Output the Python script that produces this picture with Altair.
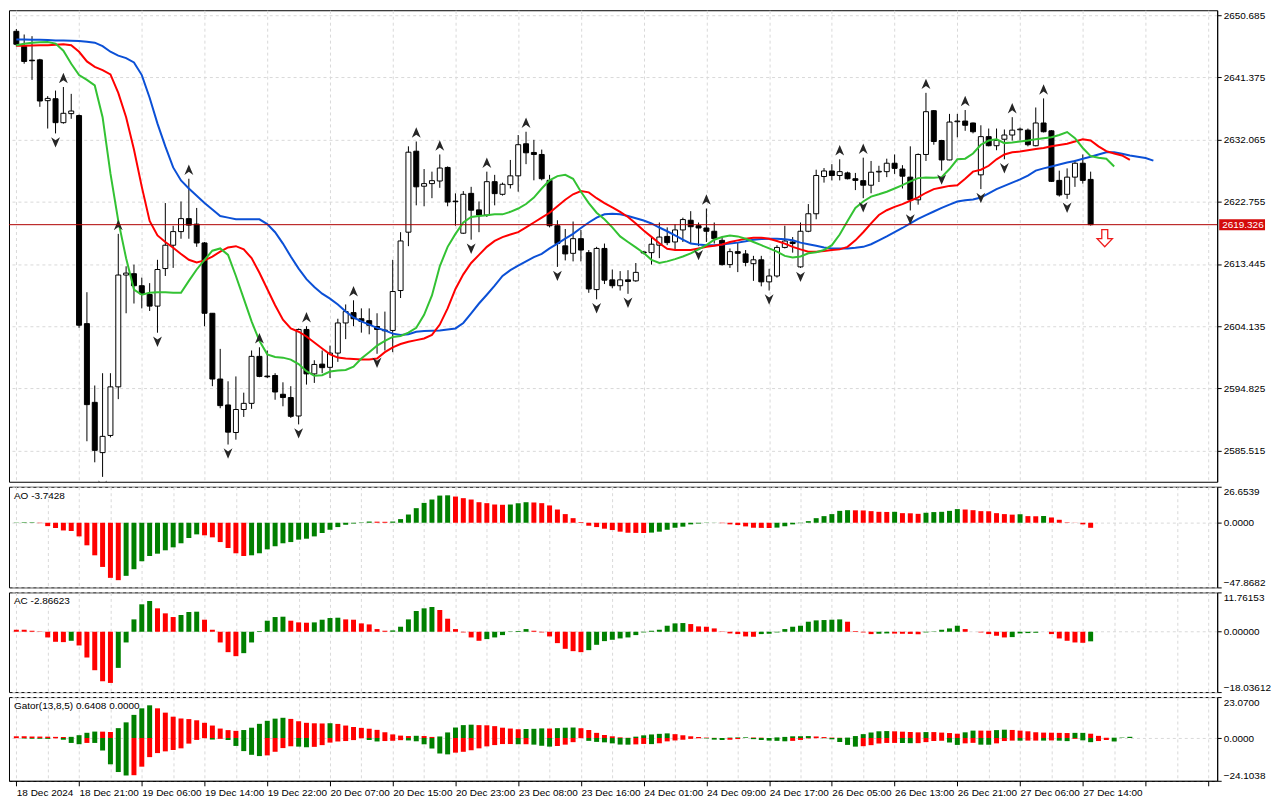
import json
import altair as alt
import pandas as pd

# ---------------- data (XAUUSD H1) ----------------
time_labels = ["18 Dec 2024", "18 Dec 21:00", "19 Dec 06:00", "19 Dec 14:00", "19 Dec 22:00",
               "20 Dec 07:00", "20 Dec 15:00", "20 Dec 23:00", "23 Dec 08:00", "23 Dec 16:00",
               "24 Dec 01:00", "24 Dec 09:00", "24 Dec 17:00", "26 Dec 05:00", "26 Dec 13:00",
               "26 Dec 21:00", "27 Dec 06:00", "27 Dec 14:00"]

price_ticks = [2585.515, 2590.170, 2594.825, 2599.480, 2604.135, 2608.790, 2613.445, 2618.100,
               2622.755, 2627.410, 2632.065, 2636.720, 2641.375, 2646.030, 2650.685]

opens = [2648.26, 2645.98, 2643.94, 2643.99, 2637.88, 2638.17, 2634.59, 2635.94, 2635.65, 2604.52,
         2592.74, 2585.22, 2587.79, 2595.06, 2611.79, 2611.99, 2610.19, 2608.88, 2607.14, 2612.76,
         2616.25, 2618.29, 2620.23, 2619.41, 2616.59, 2606.07, 2596.23, 2592.35, 2588.23, 2591.67,
         2592.59, 2599.62, 2596.67, 2596.76, 2593.95, 2593.46, 2590.70, 2603.65, 2597.00, 2598.46,
         2597.98, 2600.11, 2604.62, 2606.17, 2605.25, 2604.96, 2604.09, 2603.55, 2603.50, 2609.47,
         2618.20, 2630.32, 2625.08, 2625.47, 2625.86, 2627.89, 2622.85, 2618.05, 2624.01, 2621.54,
         2620.77, 2625.76, 2623.87, 2625.32, 2626.63, 2631.43, 2630.13, 2629.83, 2625.96, 2619.17,
         2616.16, 2615.04, 2617.23, 2615.14, 2609.61, 2615.77, 2611.07, 2610.19, 2611.07, 2610.92,
         2615.24, 2615.14, 2616.26, 2617.57, 2616.74, 2618.54, 2619.99, 2619.17, 2618.83, 2618.34,
         2616.98, 2613.35, 2615.29, 2614.95, 2613.49, 2614.07, 2610.77, 2611.65, 2615.92, 2616.74,
         2613.01, 2618.34, 2620.96, 2626.53, 2627.36, 2626.68, 2627.07, 2626.20, 2625.91, 2625.23,
         2627.21, 2627.26, 2628.52, 2627.65, 2626.44, 2623.04, 2629.83, 2636.38, 2631.92, 2629.01,
         2634.73, 2634.83, 2634.54, 2626.78, 2632.50, 2631.14, 2632.11, 2632.74, 2633.52, 2633.47,
         2631.14, 2634.54, 2633.37, 2625.95, 2623.87, 2626.44, 2628.52, 2626.10]

highs = [2648.60, 2647.78, 2647.53, 2644.14, 2638.56, 2639.39, 2639.92, 2638.90, 2635.80, 2609.22,
         2595.26, 2597.10, 2597.10, 2617.95, 2613.10, 2613.35, 2611.41, 2610.58, 2614.07, 2622.56,
         2619.16, 2622.80, 2626.20, 2621.83, 2616.74, 2606.07, 2600.74, 2595.89, 2596.62, 2594.19,
         2600.50, 2600.98, 2600.50, 2597.10, 2595.74, 2595.16, 2603.79, 2604.13, 2599.04, 2600.50,
         2601.23, 2605.25, 2607.39, 2608.01, 2606.80, 2606.80, 2606.07, 2606.32, 2614.07, 2618.20,
         2631.05, 2631.77, 2627.65, 2627.26, 2629.83, 2628.04, 2624.01, 2624.35, 2624.99, 2622.80,
         2627.26, 2626.78, 2625.62, 2629.01, 2632.74, 2633.23, 2632.02, 2630.56, 2626.78, 2619.99,
         2618.68, 2619.80, 2618.54, 2615.53, 2616.01, 2616.50, 2612.62, 2612.38, 2612.52, 2613.59,
         2615.40, 2617.47, 2619.65, 2618.92, 2619.41, 2620.38, 2621.35, 2619.65, 2621.74, 2619.65,
         2617.47, 2615.77, 2616.74, 2615.53, 2614.66, 2614.66, 2612.72, 2616.26, 2619.17, 2617.47,
         2619.65, 2622.41, 2627.55, 2627.80, 2628.38, 2629.11, 2627.26, 2627.07, 2629.35, 2628.86,
         2628.14, 2629.20, 2629.83, 2628.23, 2631.05, 2629.98, 2639.05, 2636.48, 2632.02, 2635.90,
         2635.90, 2636.48, 2634.60, 2634.20, 2633.71, 2633.71, 2633.57, 2635.41, 2633.86, 2633.71,
         2636.86, 2638.22, 2633.47, 2627.41, 2627.75, 2629.01, 2629.83, 2627.26]

lows = [2646.00, 2643.41, 2640.99, 2636.96, 2633.71, 2632.98, 2634.44, 2635.17, 2603.89, 2586.92,
        2583.77, 2581.59, 2587.50, 2593.22, 2606.07, 2607.53, 2606.80, 2606.41, 2603.16, 2611.65,
        2612.86, 2617.22, 2617.22, 2616.01, 2604.13, 2595.16, 2591.86, 2586.43, 2587.16, 2590.56,
        2591.77, 2596.50, 2596.37, 2593.13, 2592.15, 2590.41, 2589.44, 2595.40, 2595.65, 2597.10,
        2596.38, 2598.80, 2602.20, 2604.14, 2603.17, 2602.92, 2600.01, 2600.50, 2600.25, 2608.35,
        2616.11, 2622.22, 2622.08, 2623.29, 2624.84, 2622.08, 2619.17, 2617.95, 2617.08, 2618.20,
        2620.48, 2622.22, 2623.68, 2624.74, 2624.26, 2628.38, 2625.96, 2625.96, 2618.92, 2613.01,
        2613.98, 2613.83, 2613.83, 2609.13, 2608.16, 2610.44, 2609.81, 2609.47, 2608.98, 2610.78,
        2614.90, 2613.35, 2614.32, 2616.26, 2615.53, 2616.74, 2616.50, 2616.11, 2616.74, 2616.50,
        2613.20, 2612.86, 2612.23, 2613.10, 2610.92, 2610.10, 2609.47, 2611.41, 2615.77, 2615.14,
        2612.86, 2618.20, 2620.13, 2625.62, 2625.95, 2625.95, 2626.10, 2624.50, 2623.29, 2624.02,
        2625.71, 2626.44, 2626.92, 2624.74, 2621.45, 2622.32, 2628.86, 2631.29, 2627.41, 2628.96,
        2632.40, 2633.37, 2632.99, 2624.65, 2631.05, 2630.46, 2629.11, 2631.92, 2631.92, 2631.05,
        2631.05, 2633.13, 2625.71, 2623.53, 2623.19, 2624.98, 2625.47, 2619.20]

closes = [2646.32, 2643.75, 2643.85, 2637.83, 2638.22, 2634.59, 2635.99, 2636.33, 2604.28, 2592.40,
          2585.56, 2587.65, 2595.06, 2611.79, 2612.08, 2610.19, 2608.98, 2607.14, 2612.62, 2616.25,
          2618.29, 2620.23, 2619.26, 2616.59, 2606.07, 2596.23, 2592.25, 2588.28, 2591.67, 2592.59,
          2599.62, 2596.62, 2596.57, 2594.29, 2593.46, 2590.65, 2603.65, 2597.00, 2598.41, 2597.93,
          2600.11, 2604.62, 2606.32, 2605.25, 2604.86, 2604.28, 2603.65, 2603.45, 2609.32, 2616.89,
          2630.17, 2624.99, 2625.47, 2625.91, 2627.80, 2622.71, 2622.76, 2623.87, 2621.49, 2620.77,
          2625.76, 2623.97, 2625.37, 2626.63, 2631.29, 2630.08, 2629.83, 2626.20, 2619.17, 2616.50,
          2614.95, 2617.23, 2615.53, 2609.71, 2615.77, 2611.02, 2610.19, 2611.07, 2610.83, 2612.19,
          2615.09, 2616.40, 2617.47, 2616.64, 2618.54, 2620.09, 2619.02, 2618.83, 2618.34, 2617.23,
          2613.35, 2615.29, 2615.04, 2613.68, 2614.07, 2610.77, 2611.65, 2615.92, 2616.88, 2616.50,
          2618.34, 2620.96, 2626.68, 2627.36, 2626.68, 2627.26, 2626.20, 2625.95, 2625.23, 2627.17,
          2627.31, 2628.52, 2627.75, 2626.58, 2623.04, 2629.83, 2636.23, 2631.77, 2629.01, 2634.68,
          2634.83, 2634.20, 2633.23, 2632.50, 2631.14, 2631.92, 2632.74, 2633.47, 2633.62, 2631.29,
          2634.54, 2633.23, 2625.81, 2623.77, 2626.44, 2628.52, 2625.95, 2619.33]

# Alligator lines (already shifted as drawn on the chart)
jaw = [2647.05, 2647.05, 2647.00, 2647.00, 2646.95, 2646.90, 2646.90, 2646.85, 2646.80, 2646.70,
       2646.56, 2646.03, 2645.20, 2644.62, 2644.24, 2643.60, 2641.71, 2638.32, 2634.44, 2631.04,
       2627.89, 2625.95, 2624.74, 2623.67, 2622.56, 2621.59, 2620.62, 2620.38, 2620.15, 2620.13,
       2620.13, 2620.13, 2619.41, 2618.20, 2616.50, 2614.56, 2612.76, 2611.17, 2610.00, 2609.00,
       2608.26, 2607.38, 2606.32, 2605.44, 2604.86, 2604.38, 2603.89, 2603.50, 2603.02, 2602.83,
       2602.92, 2603.31, 2603.41, 2603.45, 2603.50, 2603.65, 2603.80, 2604.62, 2606.07, 2607.53,
       2608.84, 2610.19, 2611.65, 2612.52, 2613.20, 2613.83, 2614.46, 2614.95, 2615.77, 2616.50,
       2617.23, 2617.95, 2618.83, 2619.65, 2620.38, 2620.87, 2620.96, 2620.87, 2620.62, 2620.28,
       2619.95, 2619.51, 2618.90, 2618.34, 2617.71, 2617.08, 2616.50, 2616.35, 2616.26, 2616.26,
       2616.35, 2616.50, 2616.64, 2616.84, 2617.08, 2617.17, 2617.23, 2617.23, 2617.13, 2616.98,
       2616.64, 2616.40, 2616.16, 2615.92, 2615.77, 2615.77, 2615.77, 2615.87, 2616.01, 2616.40,
       2616.98, 2617.57, 2618.20, 2618.83, 2619.51, 2620.20, 2620.75, 2621.30, 2621.83, 2622.32,
       2622.80, 2622.99, 2623.09, 2623.38, 2624.02, 2624.65, 2625.13, 2625.62, 2626.10, 2626.68,
       2627.41, 2627.75, 2628.04, 2628.33, 2628.62, 2628.86, 2629.20, 2629.49, 2629.83, 2630.17,
       2630.17, 2629.93, 2629.69, 2629.49, 2629.30, 2628.91]

teeth = [2646.08, 2646.10, 2646.15, 2646.18, 2646.18, 2646.25, 2646.32, 2646.18, 2645.20, 2643.75,
         2642.93, 2642.44, 2641.81, 2639.05, 2635.41, 2630.56, 2624.98, 2619.89, 2617.71, 2616.74,
         2615.87, 2614.95, 2614.07, 2613.68, 2613.98, 2614.56, 2615.29, 2615.92, 2616.11, 2615.63,
         2614.32, 2612.13, 2609.71, 2607.28, 2605.10, 2603.79, 2603.31, 2602.60, 2601.70, 2600.80,
         2599.92, 2599.44, 2599.29, 2599.24, 2599.14, 2599.14, 2599.29, 2600.25, 2600.98, 2601.47,
         2601.81, 2602.05, 2602.29, 2602.83, 2604.38, 2606.80, 2609.71, 2611.89, 2613.59, 2614.80,
         2616.01, 2616.89, 2617.47, 2617.86, 2618.20, 2618.92, 2619.65, 2620.38, 2621.11, 2622.08,
         2623.05, 2623.87, 2624.35, 2624.16, 2623.29, 2622.56, 2621.93, 2621.25, 2620.48, 2619.51,
         2618.44, 2617.50, 2616.55, 2615.72, 2615.53, 2615.53, 2615.53, 2615.77, 2616.01, 2616.16,
         2616.35, 2616.74, 2616.98, 2617.23, 2617.37, 2617.37, 2617.23, 2616.88, 2616.50, 2616.01,
         2615.63, 2615.29, 2615.29, 2615.38, 2615.53, 2615.63, 2616.01, 2616.98, 2618.20, 2619.51,
         2620.77, 2621.49, 2621.98, 2622.41, 2622.90, 2623.40, 2624.10, 2624.65, 2624.89, 2625.13,
         2625.23, 2626.20, 2627.26, 2627.55, 2628.14, 2629.11, 2629.83, 2630.17, 2630.27, 2630.46,
         2630.66, 2630.80, 2631.05, 2631.24, 2631.43, 2631.77, 2632.11, 2631.92, 2631.05, 2630.32,
         2629.98, 2629.69, 2629.01]

lips = [2646.18, 2646.40, 2646.56, 2646.62, 2646.66, 2646.42, 2645.35, 2643.41, 2641.71, 2640.99,
        2640.16, 2635.41, 2627.00, 2619.89, 2614.30, 2609.61, 2608.84, 2609.13, 2609.22, 2609.22,
        2609.13, 2609.13, 2610.92, 2612.62, 2614.07, 2615.43, 2615.77, 2614.80, 2611.65, 2608.26,
        2604.86, 2601.95, 2599.92, 2599.53, 2599.43, 2599.14, 2598.46, 2597.40, 2596.72, 2596.80,
        2597.35, 2597.49, 2597.59, 2598.07, 2599.29, 2600.25, 2601.23, 2601.95, 2602.53, 2602.68,
        2603.17, 2603.89, 2605.83, 2608.74, 2613.10, 2616.01, 2617.95, 2619.65, 2620.48, 2620.62,
        2620.72, 2620.87, 2620.87, 2621.25, 2621.74, 2622.42, 2623.38, 2624.74, 2625.96, 2626.59,
        2626.78, 2626.20, 2624.26, 2622.56, 2621.11, 2620.13, 2618.92, 2617.57, 2616.74, 2615.92,
        2615.10, 2614.07, 2613.59, 2613.83, 2614.17, 2614.56, 2615.04, 2615.63, 2616.26, 2617.08,
        2617.47, 2617.71, 2617.57, 2617.23, 2616.74, 2616.26, 2615.77, 2615.29, 2614.66, 2614.41,
        2614.56, 2615.04, 2615.19, 2615.53, 2616.26, 2617.86, 2619.89, 2621.83, 2622.80, 2623.53,
        2623.87, 2624.26, 2624.74, 2625.23, 2625.81, 2626.29, 2626.40, 2626.34, 2626.44, 2627.65,
        2629.11, 2629.20, 2629.98, 2631.29, 2631.92, 2632.11, 2631.53, 2631.63, 2631.77, 2631.92,
        2632.11, 2632.26, 2632.40, 2632.74, 2633.18, 2632.26, 2630.80, 2629.59, 2629.35, 2629.20,
        2628.04]

fractal_up_idx = [6, 13, 22, 31, 37, 43, 51, 54, 60, 65, 88, 105, 108, 116, 121, 127, 131]
fractal_dn_idx = [5, 11, 18, 27, 36, 46, 58, 69, 74, 78, 87, 96, 100, 108, 114, 118, 123, 126, 134]

ao = [0.2, 0.3, 0.35, -0.3, -2.5, -3.9, -5.7, -6.1, -10.1, -16.7,
      -24.1, -32.7, -40.8, -42.5, -39.3, -34.4, -28.5, -24.6, -22.9, -20.4,
      -18.2, -15.2, -11.3, -8.6, -9.3, -10.8, -14.3, -18.7, -22.6, -24.6,
      -24.1, -22.6, -19.7, -17.4, -15.2, -14.3, -12.5, -11.8, -10.1, -7.6,
      -5.2, -3.2, -1.5, -0.6, 0.3, 0.9, 0.8, 0.7, 0.9, 2.7,
      6.1, 10.8, 14.7, 17.2, 20.1, 20.3, 19.4, 18.2, 17.2, 15.2,
      14.5, 13.5, 13.3, 13.5, 14.5, 15.2, 15.0, 14.5, 12.8, 9.8,
      6.4, 3.4, 0.5, -2.2, -3.2, -4.4, -5.4, -6.6, -7.4, -7.5,
      -7.6, -7.3, -6.6, -5.2, -3.7, -2.9, -1.2, -0.6, -0.2, -0.1,
      -0.3, -1.2, -1.7, -2.7, -3.7, -3.8, -3.9, -3.6, -2.6, -1.2,
      -0.3, 1.2, 3.4, 4.9, 6.4, 8.8, 9.3, 9.2, 9.1, 8.6,
      8.1, 8.0, 8.1, 7.1, 7.0, 6.6, 7.4, 7.9, 8.1, 8.8,
      10.1, 9.8, 9.3, 8.6, 8.5, 7.1, 6.4, 6.0, 6.3, 4.9,
      4.8, 5.0, 3.9, 2.2, 0.3, 0.1, -1.2, -3.7428]

ac = [0.6, 0.6, 0.3, 0.1, -1.7, -3.0, -3.1, -2.7, -4.1, -7.7,
      -11.5, -14.8, -15.3, -10.8, -3.2, 3.7, 8.2, 9.2, 7.0, 5.5,
      4.4, 5.0, 5.9, 6.0, 3.6, 0.6, -3.2, -6.1, -7.3, -6.4,
      -3.2, 0.2, 3.3, 4.4, 4.5, 3.3, 2.8, 2.7, 2.8, 3.6,
      4.1, 4.2, 3.7, 3.6, 2.5, 2.2, 0.8, 0.3, 0.4, 1.5,
      3.7, 6.2, 7.0, 7.4, 6.5, 3.9, 0.8, -0.2, -1.7, -2.7,
      -2.2, -1.7, -1.0, 0.1, 0.2, 0.8, 0.3, -0.2, -1.4, -3.4,
      -5.1, -5.8, -6.1, -5.5, -3.9, -2.8, -2.4, -2.0, -1.7, -1.0,
      -0.2, 0.3, 0.6, 1.8, 2.5, 2.6, 2.3, 1.6, 1.5, 1.0,
      0.1, -0.5, -0.7, -1.4, -1.5, -0.7, -0.6, -0.2, 0.8, 1.5,
      1.8, 3.0, 3.4, 3.5, 3.6, 3.7, 3.0, 0.2, -0.2, -0.7,
      -0.6, -0.5, -0.55, -0.6, -0.65, -0.75, -0.2, 0.1, 0.6, 1.0,
      1.8, 0.8, 0.0, -0.2, -0.7, -1.2, -1.7, -1.6, -0.5, -0.4,
      -0.3, 0.0, -0.7, -2.0, -2.7, -3.2, -3.3, -2.86623]

last_price = 2619.326
last_price_text = "2619.326"
sell_signal = {"i": 138.8, "p": 2617.30}
ao_title = "AO -3.7428"
ac_title = "AC -2.86623"
gator_title = "Gator(13,8,5) 0.6408 0.0000"

# ---------------- layout / style ----------------
W = 1212
H_MAIN, H_AO, H_AC, H_GT = 473, 101, 100, 84
X_DOMAIN = [-0.3, 152.5]
GRID_X = list(range(0, 153, 4))
FONT = "Liberation Sans"
GREEN = "#008000"
RED = "#ff0000"

UP_PATH = "M0,-1L0.85,1L0,0.4L-0.85,1Z"
DN_PATH = "M0,1L0.85,-1L0,-0.4L-0.85,-1Z"
TAG_PATH = "M-1,-0.24L1,-0.24L1,0.24L-1,0.24Z"
SELL_PATH = "M-0.35,-1L0.35,-1L0.35,0.05L0.9,0.05L0,1L-0.9,0.05L-0.35,0.05Z"

xs = alt.Scale(domain=X_DOMAIN, nice=False, zero=False)
hidden_x = alt.Axis(values=GRID_X, labels=False, ticks=False, domain=False, title=None, grid=True)


def X(field="i", axis=None):
    if axis is None:
        return alt.X(f"{field}:Q", scale=xs)
    return alt.X(f"{field}:Q", scale=xs, axis=axis)


N = len(opens)
candles = pd.DataFrame({"i": list(range(N)), "open": opens, "high": highs, "low": lows, "close": closes})
candles["fill"] = ["white" if c >= o else "black" for o, c in zip(opens, closes)]

ps = alt.Scale(domain=[2580.86, 2651.41], nice=False, zero=False)
price_axis = alt.Axis(orient="right", values=price_ticks, format=".3f", title=None, grid=True,
                      labelPadding=2, labelOverlap=False)

wicks = alt.Chart(candles).mark_rule(color="black", strokeWidth=1).encode(
    x=X(axis=hidden_x), y=alt.Y("low:Q", scale=ps, axis=price_axis), y2="high:Q")
bodies = alt.Chart(candles).mark_bar(size=5, stroke="black", strokeWidth=1).encode(
    x=X(), y=alt.Y("open:Q", scale=ps), y2="close:Q", fill=alt.Fill("fill:N", scale=None))


def line_chart(vals, color):
    df = pd.DataFrame({"i": list(range(len(vals))), "v": vals})
    return alt.Chart(df).mark_line(color=color, strokeWidth=2).encode(
        x=X(), y=alt.Y("v:Q", scale=ps))


jaw_l = line_chart(jaw, "#0b50d6")
teeth_l = line_chart(teeth, "#ff0000")
lips_l = line_chart(lips, "#33c233")

up_df = pd.DataFrame({"i": fractal_up_idx, "p": [highs[k] for k in fractal_up_idx]})
dn_df = pd.DataFrame({"i": fractal_dn_idx, "p": [lows[k] for k in fractal_dn_idx]})
up_m = alt.Chart(up_df).mark_point(shape=UP_PATH, filled=True, color="#262626", size=110,
                                   opacity=1, yOffset=-9, clip=True).encode(
    x=X(), y=alt.Y("p:Q", scale=ps))
dn_m = alt.Chart(dn_df).mark_point(shape=DN_PATH, filled=True, color="#262626", size=110,
                                   opacity=1, yOffset=9, clip=True).encode(
    x=X(), y=alt.Y("p:Q", scale=ps))

lp_df = pd.DataFrame({"p": [last_price], "t": [last_price_text]})
lp_rule = alt.Chart(lp_df).mark_rule(color="#b00000", strokeWidth=1).encode(y=alt.Y("p:Q", scale=ps))
lp_tag = alt.Chart(lp_df).mark_point(shape=TAG_PATH, filled=True, color="#d40b0b", size=2116,
                                     opacity=1).encode(x=alt.value(W + 25), y=alt.Y("p:Q", scale=ps))
lp_txt = alt.Chart(lp_df).mark_text(align="left", baseline="middle", color="white", font=FONT,
                                    fontSize=10).encode(x=alt.value(W + 5), y=alt.Y("p:Q", scale=ps),
                                                        text="t:N")

sell_df = pd.DataFrame({"i": [sell_signal["i"]], "p": [sell_signal["p"]]})
sell_m = alt.Chart(sell_df).mark_point(shape=SELL_PATH, filled=True, fill="white", stroke="#ee1c1c",
                                       strokeWidth=1.3, size=290, opacity=1).encode(
    x=X(), y=alt.Y("p:Q", scale=ps))

main = alt.layer(wicks, bodies, jaw_l, teeth_l, lips_l, up_m, dn_m, lp_rule, sell_m, lp_tag, lp_txt
                 ).properties(width=W, height=H_MAIN)


def colors_up_down(vals, first):
    out = [first]
    for k in range(1, len(vals)):
        out.append(GREEN if vals[k] > vals[k - 1] else RED)
    return out


def title_layer(text):
    df = pd.DataFrame({"t": [text]})
    return alt.Chart(df).mark_text(align="left", baseline="top", font=FONT, fontSize=10,
                                   color="black").encode(x=alt.value(5), y=alt.value(4), text="t:N")


def hist_panel(vals, colors, dom, ticks, fmt, title, height, x_axis):
    df = pd.DataFrame({"i": list(range(len(vals))), "v": vals, "c": colors})
    bars = alt.Chart(df).mark_bar(size=5).encode(
        x=X(axis=x_axis),
        y=alt.Y("v:Q", scale=alt.Scale(domain=dom, nice=False, zero=False),
                axis=alt.Axis(orient="right", values=ticks, format=fmt, labelFlush=True,
                              title=None, grid=True, labelPadding=2, labelOverlap=False)),
        y2=alt.datum(0),
        color=alt.Color("c:N", scale=None))
    return alt.layer(bars, title_layer(title)).properties(width=W, height=height)


ao_panel = hist_panel(ao, colors_up_down(ao, GREEN), [-47.8682, 26.6539], [26.6539, 0, -47.8682],
                      ".4f", ao_title, H_AO, hidden_x)
ac_panel = hist_panel(ac, colors_up_down(ac, RED), [-18.03612, 11.76153], [11.76153, 0, -18.03612],
                      ".5f", ac_title, H_AC, hidden_x)

# Gator oscillator: distances between the alligator lines as drawn
gt_up = [abs(jaw[k] - teeth[k]) for k in range(len(teeth))]
gt_lo = [abs(teeth[k] - lips[k]) for k in range(len(lips))]
gt_up_c = colors_up_down(gt_up, RED)
gt_lo_c = colors_up_down(gt_lo, RED)
gdf = pd.DataFrame({"i": list(range(len(gt_up))) + list(range(len(gt_lo))),
                    "v": gt_up + [-v for v in gt_lo],
                    "c": gt_up_c + gt_lo_c})

label_expr = ("datum.value % 8 === 0 && datum.value <= 136 ? " + json.dumps(time_labels)
              + "[datum.value / 8] : ''")
bottom_x = alt.Axis(values=GRID_X, labelExpr=label_expr, labelAlign="left", labelFlush=False,
                    labelOverlap=False, labelPadding=2, title=None, grid=True, tickSize=5,
                    tickOpacity={"condition": {"test": "datum.value % 8 === 0", "value": 1}, "value": 0})

g_bars = alt.Chart(gdf).mark_bar(size=5).encode(
    x=X(axis=bottom_x),
    y=alt.Y("v:Q", scale=alt.Scale(domain=[-24.1038, 23.07], nice=False, zero=False),
            axis=alt.Axis(orient="right", values=[23.07, 0, -24.1038], format=".4f", labelFlush=True,
                          title=None, grid=True, labelPadding=2, labelOverlap=False)),
    y2=alt.datum(0),
    color=alt.Color("c:N", scale=None))
gator_panel = alt.layer(g_bars, title_layer(gator_title)).properties(width=W, height=H_GT)

chart = alt.vconcat(main, ao_panel, ac_panel, gator_panel, spacing=3, padding=0).configure(
    font=FONT, padding=0
).configure_view(stroke="black", strokeWidth=1).configure_axis(
    labelFont=FONT, labelFontSize=10, labelColor="black", tickColor="black", domainColor="black",
    gridColor="#d9d9d9", gridDash=[3, 3], gridWidth=1, tickSize=4
)

chart.save("out.html", embed_options={"renderer": "svg", "actions": False})
